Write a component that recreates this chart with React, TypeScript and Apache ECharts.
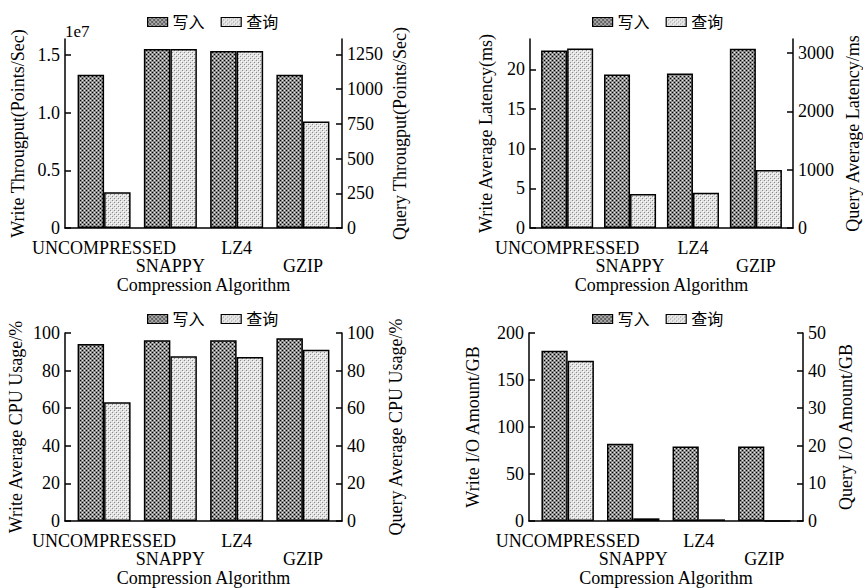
import React, { useEffect, useRef } from 'react';
import * as echarts from 'echarts';

const categories = ['UNCOMPRESSED', 'SNAPPY', 'LZ4', 'GZIP'];
const seriesNames = ['写入', '查询'];

const throughputWrite = [13290000, 15520000, 15350000, 13290000];
const throughputQuery = [257, 1288, 1273, 767];
const latencyWrite = [22.4, 19.35, 19.5, 22.6];
const latencyQuery = [3077, 581, 605, 995];
const cpuWrite = [94.1, 96.1, 96.1, 97.2];
const cpuQuery = [63.2, 87.6, 87.2, 91.1];
const ioWrite = [181.2, 82.1, 79.2, 79.2];
const ioQuery = [42.6, 0.71, 0.44, 0.05];

const xAxisName = 'Compression Algorithm';
const offsetText = '1e7';

const FONT = "'Liberation Serif', 'Times New Roman', 'Noto Sans CJK SC', serif";

function makePattern(bg: string, dots: Array<[number, number, string]>) {
  const c = document.createElement('canvas');
  c.width = 4;
  c.height = 4;
  const ctx = c.getContext('2d')!;
  ctx.fillStyle = bg;
  ctx.fillRect(0, 0, 4, 4);
  dots.forEach(([x, y, col]) => {
    ctx.fillStyle = col;
    ctx.fillRect(x, y, 1, 1);
  });
  return { image: c, repeat: 'repeat' as const };
}

export default function App() {
  const ref = useRef<HTMLDivElement>(null);
  useEffect(() => {
    document.body.style.margin = '0';
    document.body.style.overflow = 'hidden';
    if (!ref.current) return;
    const chart = echarts.init(ref.current, undefined, { renderer: 'svg' });

    const writeFill = makePattern('#8a8a8a', [
      [0, 0, '#000000'], [2, 2, '#000000'], [2, 0, '#e8e8e8'], [0, 2, '#e8e8e8'],
    ]);
    const queryFill = makePattern('#e2e2e2', [
      [0, 0, '#8a8a8a'], [2, 2, '#8a8a8a'], [1, 1, '#ffffff'], [3, 3, '#ffffff'],
    ]);

    const panels = [
      {
        left: 65, top: 39, width: 277, height: 189,
        write: throughputWrite, query: throughputQuery,
        leftName: 'Write Througput(Points/Sec)', rightName: 'Query Througput(Points/Sec)',
        leftMax: 16390000, leftInterval: 5000000, rightMax: 1360, rightInterval: 250,
        leftFmt: (v: number) => (v === 0 ? '0' : (v / 1e7).toFixed(1)),
        leftGap: 38, rightGap: 49, legendLeft: 147, legendTop: 14,
        showMax: false,
      },
      {
        left: 530, top: 39, width: 272, height: 189,
        write: latencyWrite, query: latencyQuery,
        leftName: 'Write Average Latency(ms)', rightName: 'Query Average Latency/ms',
        leftMax: 23.84, leftInterval: 5, rightMax: 3240, rightInterval: 1000,
        leftFmt: (v: number) => String(v),
        leftGap: 35, rightGap: 51, legendLeft: 592, legendTop: 14,
        showMax: false,
      },
      {
        left: 65, top: 333, width: 277, height: 188,
        write: cpuWrite, query: cpuQuery,
        leftName: 'Write Average CPU Usage/%', rightName: 'Query Average CPU Usage/%',
        leftMax: 100, leftInterval: 20, rightMax: 100, rightInterval: 20,
        leftFmt: (v: number) => String(v),
        leftGap: 40, rightGap: 45, legendLeft: 147, legendTop: 311,
        showMax: true,
      },
      {
        left: 529, top: 333, width: 274, height: 188,
        write: ioWrite, query: ioQuery,
        leftName: 'Write I/O Amount/GB', rightName: 'Query I/O Amount/GB',
        leftMax: 200, leftInterval: 50, rightMax: 50, rightInterval: 10,
        leftFmt: (v: number) => String(v),
        leftGap: 47, rightGap: 34, legendLeft: 592, legendTop: 311,
        showMax: true,
      },
    ];

    const xMin = -0.59;
    const xMax = 3.59;

    const axisLineStyle = { color: '#000', width: 1.5 };
    const labelStyle = { color: '#000', fontSize: 18, fontFamily: FONT };
    const nameStyle = { color: '#000', fontSize: 18, fontFamily: FONT };
    const catLabel = (v: number) => categories[Math.round(v)];

    const grid: any[] = [];
    const xAxis: any[] = [];
    const yAxis: any[] = [];
    const series: any[] = [];
    const legend: any[] = [];

    panels.forEach((p, i) => {
      grid.push({ left: p.left, top: p.top, width: p.width, height: p.height, containLabel: false });
      // main bottom axis: first-row category labels (even indices)
      xAxis.push({
        type: 'value', gridIndex: i, position: 'bottom', min: xMin, max: xMax,
        name: xAxisName, nameLocation: 'middle', nameGap: 48, nameTextStyle: nameStyle,
        nameMoveOverlap: false,
        axisLine: { show: true, onZero: false, lineStyle: axisLineStyle },
        axisTick: { show: false },
        splitLine: { show: false },
        axisLabel: {
          ...labelStyle,
          margin: 12,
          lineHeight: 16,
          showMinLabel: true,
          showMaxLabel: true,
          customValues: [0, 2],
          formatter: catLabel,
        },
      });
      // second axis carrying the second-row labels (odd indices), moved below the plot
      xAxis.push({
        type: 'value', gridIndex: i, position: 'top', offset: -(p.height + 46), min: xMin, max: xMax,
        axisLine: { show: false, onZero: false },
        axisTick: { show: false },
        splitLine: { show: false },
        axisLabel: {
          ...labelStyle,
          margin: 0,
          lineHeight: 16,
          showMinLabel: true,
          showMaxLabel: true,
          customValues: [1, 3],
          formatter: catLabel,
        },
      });
      yAxis.push({
        type: 'value', gridIndex: i, position: 'left', min: 0, max: p.leftMax, interval: p.leftInterval,
        name: p.leftName, nameLocation: 'middle', nameRotate: 90, nameGap: p.leftGap, nameTextStyle: nameStyle,
        nameMoveOverlap: false,
        axisLine: { show: true, onZero: false, lineStyle: axisLineStyle },
        axisTick: { show: true, inside: true, length: 6, lineStyle: axisLineStyle },
        splitLine: { show: false },
        axisLabel: { ...labelStyle, margin: 5, showMaxLabel: p.showMax, formatter: p.leftFmt },
      });
      yAxis.push({
        type: 'value', gridIndex: i, position: 'right', min: 0, max: p.rightMax, interval: p.rightInterval,
        name: p.rightName, nameLocation: 'middle', nameRotate: 90, nameGap: p.rightGap, nameTextStyle: nameStyle,
        nameMoveOverlap: false,
        axisLine: { show: true, onZero: false, lineStyle: axisLineStyle },
        axisTick: { show: true, inside: true, length: 6, lineStyle: axisLineStyle },
        splitLine: { show: false },
        axisLabel: { ...labelStyle, margin: 5, showMaxLabel: p.showMax, formatter: (v: number) => String(v) },
      });
      const bw = (0.4 * p.width) / (xMax - xMin);
      series.push({
        type: 'bar', name: seriesNames[0], xAxisIndex: i * 2, yAxisIndex: i * 2,
        barWidth: bw, barGap: '0%',
        itemStyle: { color: writeFill, borderColor: '#000', borderWidth: 1.5 },
        data: p.write.map((v, k) => [k, v]),
      });
      series.push({
        type: 'bar', name: seriesNames[1], xAxisIndex: i * 2, yAxisIndex: i * 2 + 1,
        barWidth: bw, barGap: '0%',
        itemStyle: { color: queryFill, borderColor: '#000', borderWidth: 1.5 },
        data: p.query.map((v, k) => [k, v]),
      });
      legend.push({
        data: seriesNames, left: p.legendLeft, top: p.legendTop, padding: 0,
        icon: 'rect', itemWidth: 20, itemHeight: 9, itemGap: 16,
        itemStyle: { borderColor: '#000', borderWidth: 1.2 },
        textStyle: { color: '#000', fontSize: 16, fontFamily: FONT },
        selectedMode: false,
      });
    });

    chart.setOption({
      animation: false,
      backgroundColor: '#fff',
      textStyle: { fontFamily: FONT },
      grid, xAxis, yAxis, series, legend,
      graphic: [
        {
          type: 'text', left: 65, top: 23,
          style: { text: offsetText, fill: '#000', font: `17px ${FONT}` },
        },
      ],
    });

    return () => chart.dispose();
  }, []);

  return <div ref={ref} style={{ width: 863, height: 588 }} />;
}
